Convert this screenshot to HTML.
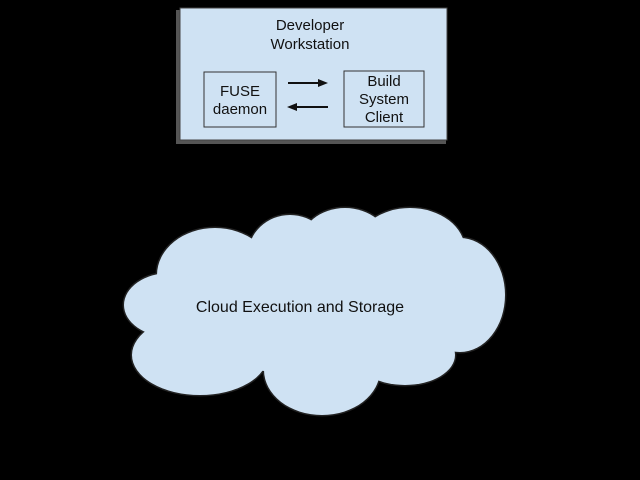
<!DOCTYPE html>
<html><head><meta charset="utf-8"><style>
html,body{margin:0;padding:0;background:#000;}
svg{display:block}
text{font-family:"Liberation Sans",sans-serif;font-size:15px;fill:#111}
</style></head><body>
<svg width="640" height="480" viewBox="0 0 640 480" xmlns="http://www.w3.org/2000/svg">
<rect x="0" y="0" width="640" height="480" fill="#000"/>
<rect x="176" y="10" width="270" height="134" fill="#555"/>
<rect x="180" y="8" width="267" height="132" fill="#cfe2f3" stroke="#444" stroke-width="1"/>
<text x="310" y="30" text-anchor="middle">Developer</text>
<text x="310" y="49" text-anchor="middle">Workstation</text>
<rect x="204" y="72" width="72" height="55" fill="#cfe2f3" stroke="#333"/>
<text x="240" y="96" text-anchor="middle">FUSE</text>
<text x="240" y="114" text-anchor="middle">daemon</text>
<rect x="344" y="71" width="80" height="56" fill="#cfe2f3" stroke="#333"/>
<text x="384" y="86" text-anchor="middle">Build</text>
<text x="384" y="104" text-anchor="middle">System</text>
<text x="384" y="122" text-anchor="middle">Client</text>
<line x1="288" y1="83" x2="320" y2="83" stroke="#111" stroke-width="2"/>
<polygon points="328,83 318,79 318,87" fill="#111"/>
<line x1="295" y1="107" x2="328" y2="107" stroke="#111" stroke-width="2"/>
<polygon points="287,107 297,103 297,111" fill="#111"/>
<defs>
<g id="c">
<ellipse cx="170" cy="305" rx="46" ry="32"/>
<ellipse cx="200" cy="355" rx="68" ry="40"/>
<ellipse cx="215" cy="275" rx="58" ry="47"/>
<ellipse cx="290" cy="255" rx="42" ry="40"/>
<ellipse cx="345" cy="245" rx="45" ry="37"/>
<ellipse cx="410" cy="250" rx="55" ry="42"/>
<ellipse cx="460" cy="295" rx="45" ry="57"/>
<ellipse cx="405" cy="355" rx="50" ry="30"/>
<ellipse cx="322" cy="370" rx="58" ry="45"/>
<ellipse cx="315" cy="310" rx="150" ry="65"/>
</g>
</defs>
<use href="#c" fill="#cfe2f3" stroke="#222" stroke-width="3"/>
<use href="#c" fill="#cfe2f3"/>
<text x="300" y="312" text-anchor="middle" style="font-size:16px">Cloud Execution and Storage</text>
</svg>
</body></html>
